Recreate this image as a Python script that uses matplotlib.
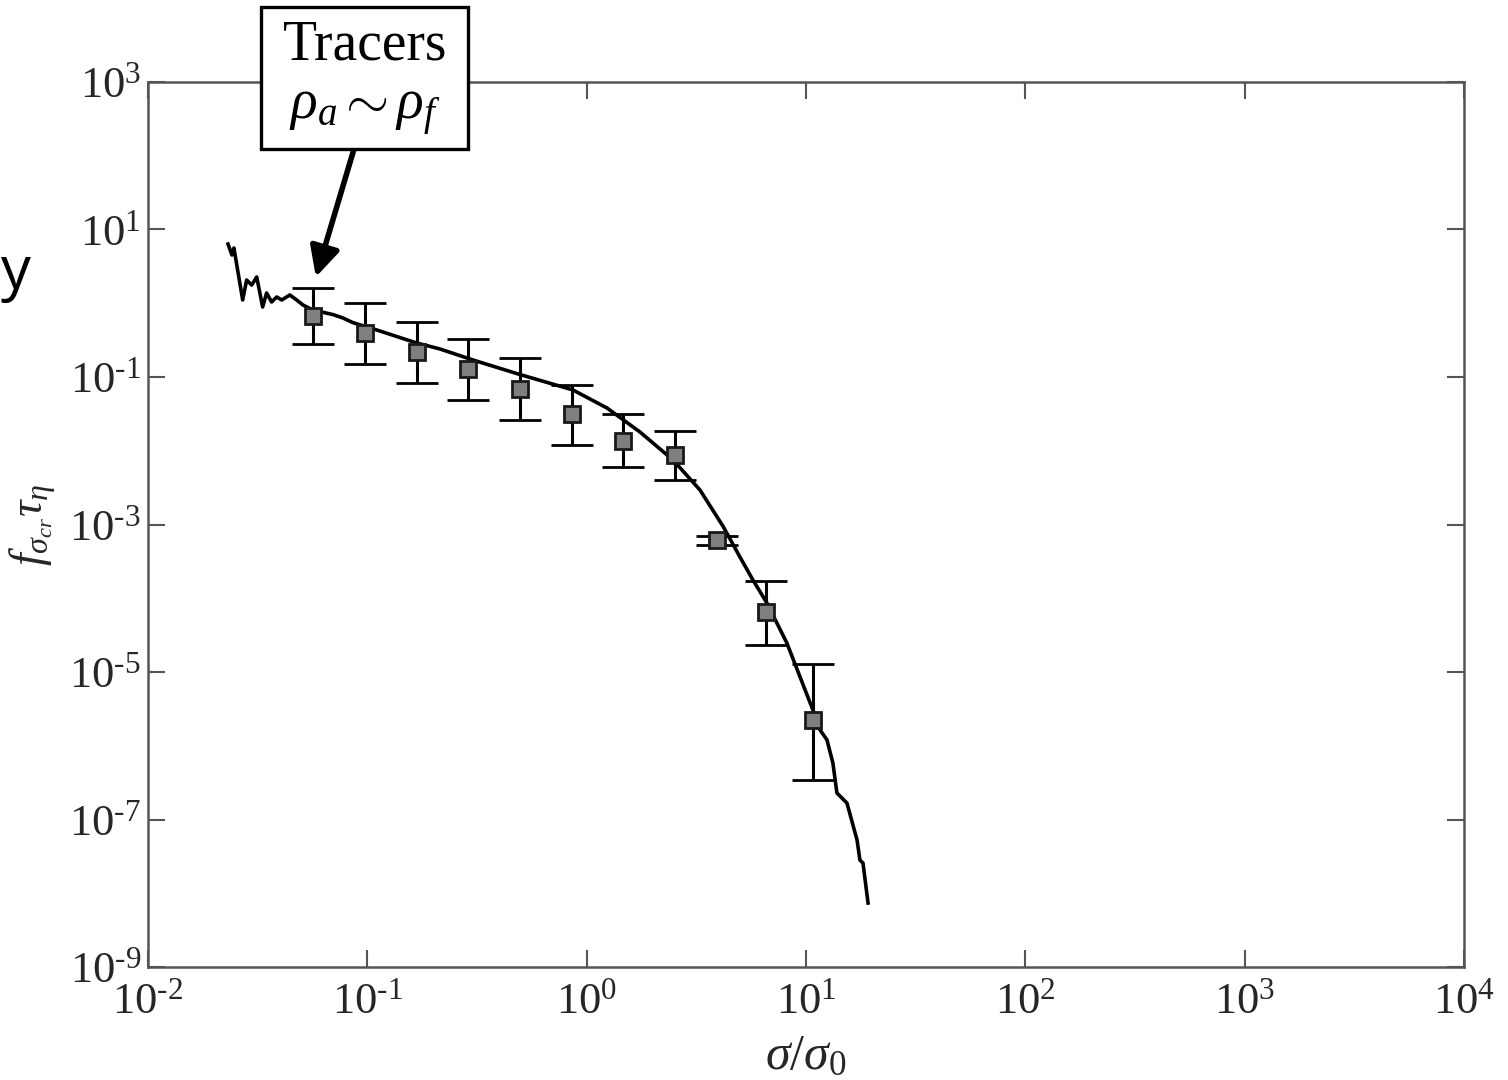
import numpy as np
import matplotlib
matplotlib.use("Agg")
import matplotlib.pyplot as plt
from matplotlib.patches import Rectangle
from matplotlib.ticker import FixedLocator, FuncFormatter, NullLocator

# binned tracer data (sigma/sigma0, f*tau, error limits)
sig_pts = [0.0565, 0.0976, 0.169, 0.288, 0.497, 0.858, 1.466, 2.53, 3.93, 6.58, 10.8]
f_pts = [0.67, 0.395, 0.218, 0.128, 0.0687, 0.0315, 0.0136, 0.00875, 6.16e-4, 6.5e-5, 2.23e-6]
f_hi = [1.61, 1.0, 0.557, 0.327, 0.181, 0.078, 0.0315, 0.0185, 7.0e-4, 1.7e-4, 1.29e-5]
f_lo = [0.28, 0.15, 0.083, 0.0488, 0.0261, 0.012, 0.006, 0.004, 5.3e-4, 2.3e-5, 3.4e-7]

# continuous curve
sig_curve = [0.02317, 0.02415, 0.02466, 0.02704, 0.02818, 0.02972, 0.03133, 0.03334,
             0.03475, 0.03664, 0.03864, 0.04074, 0.04436, 0.04764, 0.05093, 0.05649,
             0.0700, 0.07745, 0.0861, 0.1104, 0.1679, 0.2143, 0.3034, 0.4966, 0.8663,
             1.238, 1.751, 2.476, 3.287, 4.184, 5.003, 5.73, 6.637, 8.185, 10.76, 11.59,
             12.47, 13.27, 13.84, 15.38, 17.10, 17.62, 18.20, 19.19]
f_curve = [6.35, 4.51, 5.61, 1.107, 2.065, 1.766, 2.27, 0.889,
           1.377, 1.04, 1.216, 1.107, 1.294, 1.107, 0.946, 0.809,
           0.70, 0.631, 0.545, 0.434, 0.289, 0.240, 0.17, 0.108, 0.0667,
           0.038, 0.01795, 0.0075, 0.002938, 9.5e-4, 3.62e-4, 1.77e-4, 8.63e-5, 2.47e-5,
           3.05e-6, 1.64e-6, 1.2e-6, 5.83e-7, 2.29e-7, 1.67e-7, 5.27e-8, 2.82e-8, 2.57e-8, 7.38e-9]

xticks = [1e-2, 1e-1, 1e0, 1e1, 1e2, 1e3, 1e4]
yticks = [1e-9, 1e-7, 1e-5, 1e-3, 1e-1, 1e1, 1e3]

plt.rcParams['mathtext.fontset'] = 'custom'
plt.rcParams['mathtext.rm'] = 'Liberation Serif'
plt.rcParams['mathtext.it'] = 'Liberation Serif:italic'
plt.rcParams['font.family'] = 'Liberation Serif'

fig = plt.figure(figsize=(15.08, 10.8), dpi=100)
ax = fig.add_axes([0.0981, 0.1046, 0.8727, 0.8195])

ax.plot(sig_curve, f_curve, color='black', lw=2.6, zorder=3)
yerr = [np.array(f_pts) - np.array(f_lo), np.array(f_hi) - np.array(f_pts)]
ax.errorbar(sig_pts, f_pts, yerr=yerr, fmt='s', color='black', ecolor='black',
            elinewidth=2.2, capsize=15, capthick=2.2, markersize=11,
            markerfacecolor='#7f7f7f', markeredgecolor='#1a1a1a', markeredgewidth=2,
            zorder=4)

ax.set_xscale('log')
ax.set_yscale('log')
ax.set_xlim(1e-2, 1e4)
ax.set_ylim(1e-9, 1e3)

def fmt(v, pos):
    e = int(round(np.log10(v)))
    if e < 0:
        return '$\\mathrm{10^{\u2010' + str(-e) + '}}$'
    return '$\\mathrm{10^{' + str(e) + '}}$'

ax.xaxis.set_major_locator(FixedLocator(xticks))
ax.yaxis.set_major_locator(FixedLocator(yticks))
ax.xaxis.set_minor_locator(NullLocator())
ax.yaxis.set_minor_locator(NullLocator())
ax.xaxis.set_major_formatter(FuncFormatter(fmt))
ax.yaxis.set_major_formatter(FuncFormatter(fmt))
ax.tick_params(which='both', direction='in', top=True, right=True, length=12,
               width=1.5, color='#555555', labelsize=32, labelcolor='#262626')
ax.tick_params(axis='x', pad=11)
ax.tick_params(axis='y', pad=5)
for s in ax.spines.values():
    s.set_color('#555555')
    s.set_linewidth(1.8)

ax.set_xlabel(r'$\sigma/\sigma_0$', fontsize=36, color='#262626', labelpad=8)
ax.set_ylabel(r'$f_{\sigma_{cr}}\tau_\eta$', fontsize=33, color='#262626', labelpad=8)

# annotation box
box = Rectangle((261 / 1508, 931 / 1080), 207 / 1508, 142 / 1080, transform=fig.transFigure,
                facecolor='white', edgecolor='black', lw=2.4, zorder=10)
fig.patches.append(box)
fig.text(365 / 1508, 1 - 45 / 1080, 'Tracers', fontsize=40, ha='center', va='center', zorder=11)
fig.text(365 / 1508, 1 - 112 / 1080, r'$\rho_a \sim \rho_f$', fontsize=40, ha='center',
         va='center', zorder=11)
ax.annotate('', xy=(0.0583, 2.27), xycoords='data',
            xytext=(354, 931), textcoords='figure pixels',
            arrowprops=dict(arrowstyle='-|>', lw=4, color='black', mutation_scale=45,
                            shrinkA=0, shrinkB=0), zorder=9, annotation_clip=False)

# cut-off word at left edge
fig.text(1 / 1508, 1 - 289 / 1080, 'y', fontsize=43, ha='left', va='baseline',
         family='Open Sans', color='black')

fig.savefig('out.png', dpi=100)
